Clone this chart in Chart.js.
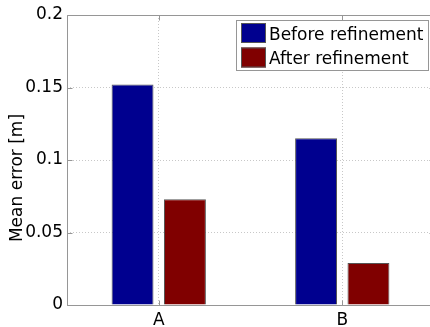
<!DOCTYPE html>
<html><head><meta charset="utf-8">
<script src="https://cdn.jsdelivr.net/npm/chart.js@4"></script>
<style>
html,body{margin:0;padding:0;overflow:hidden;background:#fff}
#wrap{width:430px;height:327px;overflow:hidden;position:relative}
#wrap canvas{display:block}
</style></head>
<body><div id="wrap"><canvas id="c" width="440" height="327" style="width:440px;height:327px"></canvas></div>
<script>
const categories = ['A', 'B'];
const seriesNames = ['Before refinement', 'After refinement'];
const beforeValues = [0.152, 0.115];
const afterValues = [0.073, 0.029];
const yTicks = [0, 0.05, 0.1, 0.15, 0.2];
const yLabel = 'Mean error [m]';

const FONT = 'DejaVu Sans';
const colors = ['#00008F', '#800000'];

const boxPlugin = {
  id: 'matlabBox',
  afterDatasetsDraw(chart) {
    const ctx = chart.ctx, a = chart.chartArea;
    const xs = chart.scales.x, ys = chart.scales.y;
    ctx.save();
    ctx.strokeStyle = '#969696';
    ctx.lineWidth = 1;
    const L = Math.round(a.left) + 0.5, R = Math.round(a.right) + 0.5;
    const T = Math.round(a.top) + 0.5, B = Math.round(a.bottom) + 0.5;
    ctx.beginPath();
    ctx.moveTo(L, T); ctx.lineTo(R, T); ctx.lineTo(R, B); ctx.lineTo(L, B); ctx.closePath();
    // inward ticks
    yTicks.forEach(v => {
      const y = Math.round(ys.getPixelForValue(v)) + 0.5;
      ctx.moveTo(L, y); ctx.lineTo(L + 5, y);
      ctx.moveTo(R, y); ctx.lineTo(R - 5, y);
    });
    categories.forEach((c, i) => {
      const x = Math.round(xs.getPixelForValue(i)) + 0.5;
      ctx.moveTo(x, B); ctx.lineTo(x, B - 5);
      ctx.moveTo(x, T); ctx.lineTo(x, T + 5);
    });
    ctx.stroke();

    // y label
    ctx.fillStyle = '#000';
    ctx.font = '17px "' + FONT + '"';
    ctx.textAlign = 'center';
    ctx.textBaseline = 'middle';
    ctx.save();
    ctx.translate(18, 178);
    ctx.rotate(-Math.PI / 2);
    ctx.fillText(yLabel, 0, 0);
    ctx.restore();

    // legend
    ctx.fillStyle = '#fff';
    ctx.fillRect(237, 21, 192, 50);
    ctx.strokeStyle = '#969696';
    ctx.strokeRect(236.5, 20.5, 192, 50);
    const rows = [{y: 23, base: 39.5}, {y: 47.5, base: 63.5}];
    chart.data.datasets.forEach((ds, i) => {
      const r = rows[i];
      ctx.fillStyle = ds.backgroundColor;
      ctx.fillRect(241, r.y, 25, 20);
      ctx.strokeStyle = '#555';
      ctx.strokeRect(241.5, r.y + 0.5, 24, 19);
      ctx.fillStyle = '#000';
      ctx.textAlign = 'left';
      ctx.textBaseline = 'alphabetic';
      ctx.fillText(ds.label, 269, r.base);
    });
    ctx.restore();
  }
};

new Chart(document.getElementById('c'), {
  type: 'bar',
  data: {
    labels: categories,
    datasets: [
      {label: seriesNames[0], data: beforeValues, backgroundColor: colors[0], borderColor: '#555', borderWidth: 1},
      {label: seriesNames[1], data: afterValues, backgroundColor: colors[1], borderColor: '#555', borderWidth: 1}
    ]
  },
  options: {
    responsive: false,
    animation: false,
    events: [],
    categoryPercentage: 0.571,
    barPercentage: 0.8,
    layout: {padding: {top: 15, right: 6, left: 0, bottom: 0}},
    plugins: {legend: {display: false}, tooltip: {enabled: false}},
    scales: {
      x: {
        grid: {offset: false, drawTicks: false, color: '#c8c8c8', borderDash: [1, 2], lineWidth: 1},
        border: {display: false, dash: [1, 2]},
        ticks: {color: '#000', font: {family: FONT, size: 17}, padding: 5, maxRotation: 0},
        afterFit(s) { s.height = 22; }
      },
      y: {
        min: 0, max: 0.2,
        afterBuildTicks(s) { s.ticks = yTicks.map(v => ({value: v})); },
        grid: {drawTicks: false, color: '#c8c8c8', lineWidth: 1},
        border: {display: false, dash: [1, 2]},
        ticks: {color: '#000', font: {family: FONT, size: 17}, padding: 4,
          callback: v => String(+Number(v).toFixed(2))},
        afterFit(s) { s.width = 67; }
      }
    }
  },
  plugins: [boxPlugin]
});
</script>
</body></html>
